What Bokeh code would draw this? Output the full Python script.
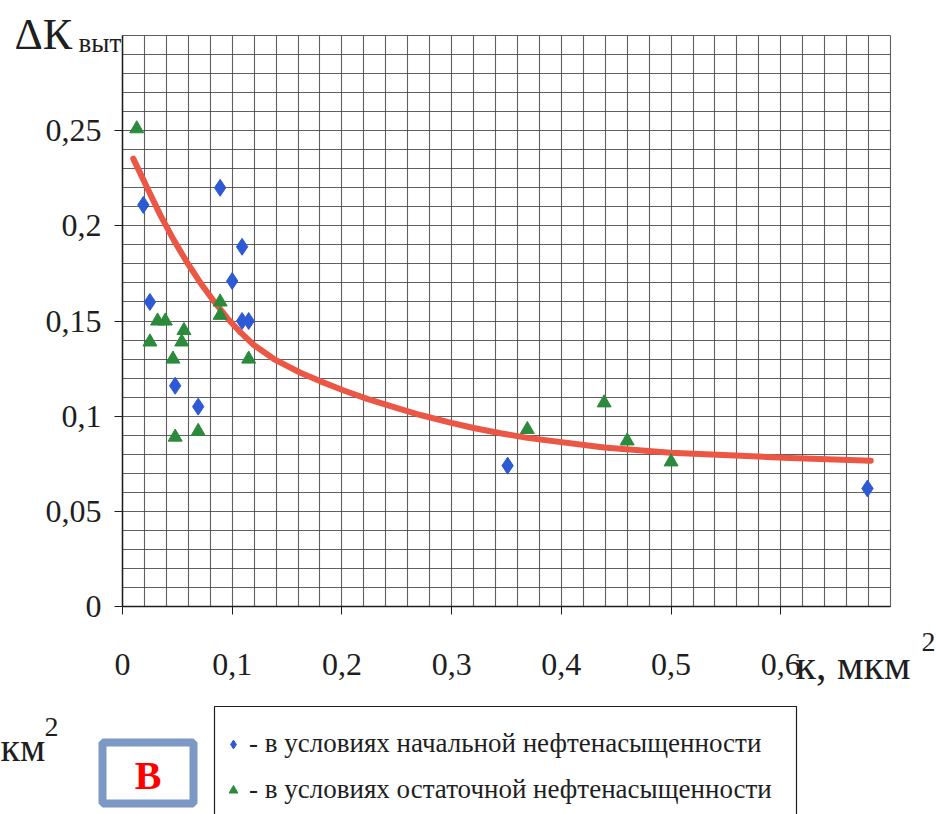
from bokeh.plotting import figure
from bokeh.models import Range1d, FixedTicker, Label, Legend, LegendItem, BoxAnnotation
from bokeh.embed import file_html
from bokeh.resources import INLINE

# ---------------- data ----------------
x_ticks = [0, 0.1, 0.2, 0.3, 0.4, 0.5, 0.6]
x_tick_labels = ["0", "0,1", "0,2", "0,3", "0,4", "0,5", "0,6"]
y_ticks = [0, 0.05, 0.1, 0.15, 0.2, 0.25]
y_tick_labels = ["0", "0,05", "0,1", "0,15", "0,2", "0,25"]

# initial oil saturation (blue diamonds)
blue_x = [0.019, 0.025, 0.048, 0.069, 0.089, 0.100, 0.109, 0.109, 0.115, 0.351, 0.679]
blue_y = [0.211, 0.160, 0.116, 0.105, 0.220, 0.171, 0.189, 0.150, 0.150, 0.074, 0.062]

# residual oil saturation (green triangles)
green_x = [0.013, 0.025, 0.032, 0.039, 0.046, 0.056, 0.054, 0.048, 0.069,
           0.089, 0.089, 0.115, 0.369, 0.439, 0.460, 0.500]
green_y = [0.251, 0.139, 0.150, 0.150, 0.130, 0.145, 0.139, 0.089, 0.092,
           0.160, 0.153, 0.130, 0.093, 0.107, 0.087, 0.076]

# trend curve
curve_x = [0.0098, 0.0225, 0.0346, 0.0468, 0.059, 0.0711, 0.0833, 0.0954, 0.1076,
           0.1197, 0.138, 0.1622, 0.1805, 0.2017, 0.223, 0.2474, 0.2716, 0.296,
           0.320, 0.3445, 0.369, 0.439, 0.4995, 0.6026, 0.682]
curve_y = [0.2353, 0.2200, 0.2055, 0.1925, 0.1806, 0.1700, 0.1604, 0.1516, 0.1440,
           0.1374, 0.1300, 0.1228, 0.1183, 0.1135, 0.1091, 0.1047, 0.1006, 0.0970,
           0.0938, 0.0910, 0.0886, 0.0835, 0.0808, 0.0782, 0.0766]

legend_labels = ["- в условиях начальной нефтенасыщенности",
                 "- в условиях остаточной нефтенасыщенности"]

# ---------------- layout ----------------
W, H = 936, 814
FL, FR, FT, FB = 122, 890, 35, 606          # chart area in pixels
X0, X1, Y0, Y1 = 0.0, 0.7, 0.0, 0.3          # chart area in data units


def dx(px):
    return X0 + (px - FL) / (FR - FL) * (X1 - X0)


def dy(py):
    return Y0 + (FB - py) / (FB - FT) * (Y1 - Y0)


SERIF = "Liberation Serif"
INK = "#1e1e1e"
GRID = "#444444"

p = figure(width=W, height=H,
           x_range=Range1d(dx(0), dx(W)), y_range=Range1d(dy(H), dy(0)),
           output_backend="svg", toolbar_location=None, title=None,
           min_border=0, min_border_left=0, min_border_right=0,
           min_border_top=0, min_border_bottom=0)
p.background_fill_color = "white"
p.border_fill_color = "white"
p.outline_line_color = None

# axes pinned to the chart origin
p.xaxis.fixed_location = 0
p.yaxis.fixed_location = 0
p.xaxis.bounds = (X0, X1)
p.yaxis.bounds = (Y0, Y1)
p.xaxis.ticker = FixedTicker(ticks=x_ticks)
p.xaxis.major_label_overrides = dict(zip(x_ticks, x_tick_labels))
p.yaxis.ticker = FixedTicker(ticks=y_ticks)
p.yaxis.major_label_overrides = dict(zip(y_ticks, y_tick_labels))
for ax in (p.xaxis, p.yaxis):
    ax.axis_line_color = INK
    ax.axis_line_width = 1.5
    ax.major_tick_line_color = INK
    ax.major_tick_out = 8
    ax.major_tick_in = 0
    ax.minor_tick_line_color = None
    ax.major_label_text_font = SERIF
    ax.major_label_text_font_size = "32px"
    ax.major_label_text_color = INK
p.xaxis.major_label_standoff = 39
p.yaxis.major_label_standoff = 13

# grid (every 0.02 along x, every 0.01 along y)
gx = [round(i * 0.02, 2) for i in range(36)]
gy = [round(i * 0.01, 2) for i in range(31)]
p.xgrid.ticker = FixedTicker(ticks=gx)
p.ygrid.ticker = FixedTicker(ticks=gy)
p.xgrid.bounds = (X0, X1)
p.ygrid.bounds = (Y0, Y1)
try:
    p.xgrid.cross_bounds = (Y0, Y1)
    p.ygrid.cross_bounds = (X0, X1)
    p.grid.grid_line_color = GRID
    p.grid.grid_line_width = 1.1
    p.grid.grid_line_alpha = 0.85
except Exception:
    p.grid.grid_line_color = None
    p.segment(x0=gx, y0=[Y0] * len(gx), x1=gx, y1=[Y1] * len(gx),
              line_color=GRID, line_width=1.1, line_alpha=0.85)
    p.segment(x0=[X0] * len(gy), y0=gy, x1=[X1] * len(gy), y1=gy,
              line_color=GRID, line_width=1.1, line_alpha=0.85)

# data
p.line(curve_x, curve_y, line_color="#EC5645", line_width=6, line_cap="round", line_join="round")
rb = p.scatter(blue_x, blue_y, marker="diamond", size=17, fill_color="#2d5ad4", line_color="#2d5ad4")
rg = p.scatter(green_x, green_y, marker="triangle", size=14, fill_color="#2b8a3c", line_color="#2b8a3c")


def text(px, base_py, s, size, **kw):
    # base_py is the wanted baseline; Bokeh's alphabetic baseline sits ~0.38em lower
    p.add_layout(Label(x=dx(px), y=dy(base_py - 0.38 * size), text=s, text_font=SERIF,
                       text_font_size=f"{size}px", text_color=kw.pop("color", INK),
                       text_baseline="alphabetic", **kw))


# axis titles
text(14, 51, "ΔК", 44)
text(78, 53, "выт", 27)
text(795, 680, "к, мкм", 42)
text(921, 652, "2", 28)

# fragment of the neighbouring chart's label at the left edge
text(0, 762, "км", 40)
text(44, 737, "2", 28)

# "В" badge
p.add_layout(BoxAnnotation(left=dx(102), right=dx(193), top=dy(742), bottom=dy(803),
                           fill_color="white", fill_alpha=1, line_color="#7C98C4",
                           line_width=8, line_alpha=1))
p.add_layout(Label(x=dx(147.5), y=dy(775), text="В", text_font=SERIF, text_font_size="40px",
                   text_font_style="bold", text_color="#ff0000",
                   text_align="center", text_baseline="middle"))

# legend frame + legend
p.add_layout(BoxAnnotation(left=dx(214), right=dx(796), top=dy(706), bottom=dy(830),
                           fill_color="white", fill_alpha=1, line_color=INK,
                           line_width=1.2, line_alpha=1))
legend = Legend(items=[LegendItem(label=legend_labels[0], renderers=[rb]),
                       LegendItem(label=legend_labels[1], renderers=[rg])],
                location=(222, 9), orientation="vertical",
                border_line_color=None, background_fill_alpha=0,
                padding=0, margin=0, spacing=15,
                glyph_width=22, glyph_height=30, label_height=30, label_standoff=5,
                label_text_font=SERIF, label_text_font_size="27px", label_text_color=INK)
p.add_layout(legend, "center")

open("out.html", "w").write(file_html(p, INLINE))
